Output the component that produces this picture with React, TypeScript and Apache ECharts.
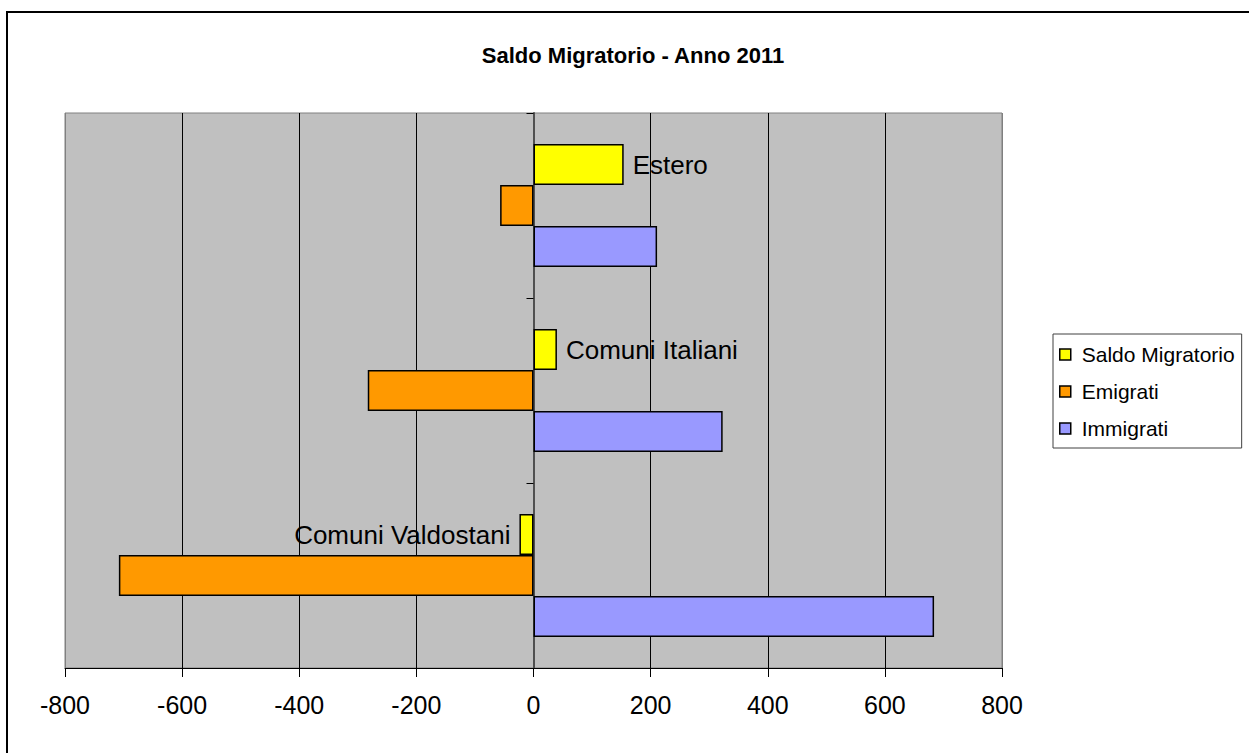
import React, { useEffect, useRef } from "react";
import * as echarts from "echarts";

const categories = ["Comuni Valdostani", "Comuni Italiani", "Estero"];
const immigrati = [684, 323, 211];
const emigrati = [-708, -283, -57];
const saldo = [-24, 40, 154];
const xTicks = { min: -800, max: 800, interval: 200 };
const seriesNames = ["Saldo Migratorio", "Emigrati", "Immigrati"];

const FONT = "'Liberation Sans', Arial, sans-serif";

export default function App() {
  const ref = useRef<HTMLDivElement>(null);
  useEffect(() => {
    if (!ref.current) return;
    const chart = echarts.init(ref.current, null, { renderer: "svg" });
    const barBorder = { borderColor: "#000", borderWidth: 1.5 };
    const option = {
      animation: false,
      backgroundColor: "#fff",
      textStyle: { fontFamily: FONT },
      graphic: [
        {
          type: "rect",
          shape: { x: 7, y: 12, width: 1400, height: 900 },
          style: { fill: "none", stroke: "#000", lineWidth: 2 },
          silent: true,
        },
        {
          type: "text",
          x: 633,
          y: 55,
          style: {
            text: "Saldo Migratorio - Anno 2011",
            font: `bold 22px ${FONT}`,
            fill: "#000",
            align: "center",
            verticalAlign: "middle",
          },
        },
      ],
      grid: {
        left: 65,
        right: 247,
        top: 113,
        bottom: 85,
        show: true,
        backgroundColor: "#c0c0c0",
        borderColor: "#808080",
        borderWidth: 1,
      },
      legend: {
        orient: "vertical",
        left: 1053,
        top: 334,
        data: seriesNames,
        icon: "rect",
        itemWidth: 11,
        itemHeight: 11,
        itemGap: 16,
        padding: [10, 7, 9, 6],
        borderColor: "#404040",
        borderWidth: 1,
        backgroundColor: "#fff",
        itemStyle: { borderColor: "#000", borderWidth: 1.5 },
        textStyle: { fontSize: 21, color: "#000", fontFamily: FONT, padding: [0, 0, 0, 6] },
      },
      xAxis: {
        type: "value",
        min: xTicks.min,
        max: xTicks.max,
        interval: xTicks.interval,
        axisLine: { show: true, lineStyle: { color: "#000", width: 1 } },
        axisTick: { show: true, length: 9, lineStyle: { color: "#000" } },
        axisLabel: { fontSize: 25, color: "#000", margin: 24, fontFamily: FONT },
        splitLine: {
          show: true,
          lineStyle: {
            color: ["#808080", "#000", "#000", "#000", "#000", "#000", "#000", "#000", "#808080"],
            width: 1,
          },
        },
      },
      yAxis: {
        type: "category",
        data: categories,
        axisLine: { show: true, onZero: true, lineStyle: { color: "#505050", width: 2 } },
        axisTick: { show: true, length: 7, lineStyle: { color: "#000" } },
        axisLabel: { show: false },
        splitLine: { show: false },
      },
      series: [
        {
          name: "Saldo Migratorio",
          type: "bar",
          data: saldo.map((v) => ({
            value: v,
            label: { position: v < 0 ? "left" : "right" },
          })),
          barWidth: 41,
          barGap: "0%",
          itemStyle: { color: "#ffff00", ...barBorder },
          label: {
            show: true,
            formatter: "{b}",
            distance: 9,
            fontSize: 26,
            color: "#000",
            fontFamily: FONT,
          },
        },
        {
          name: "Emigrati",
          type: "bar",
          data: emigrati,
          barWidth: 41,
          barGap: "0%",
          itemStyle: { color: "#ff9900", ...barBorder },
        },
        {
          name: "Immigrati",
          type: "bar",
          data: immigrati,
          barWidth: 41,
          barGap: "0%",
          itemStyle: { color: "#9999ff", ...barBorder },
        },
      ],
    };
    chart.setOption(option as any);
    return () => chart.dispose();
  }, []);
  return (
    <div
      ref={ref}
      style={{ position: "absolute", left: 0, top: 0, width: 1249, height: 753 }}
    />
  );
}
